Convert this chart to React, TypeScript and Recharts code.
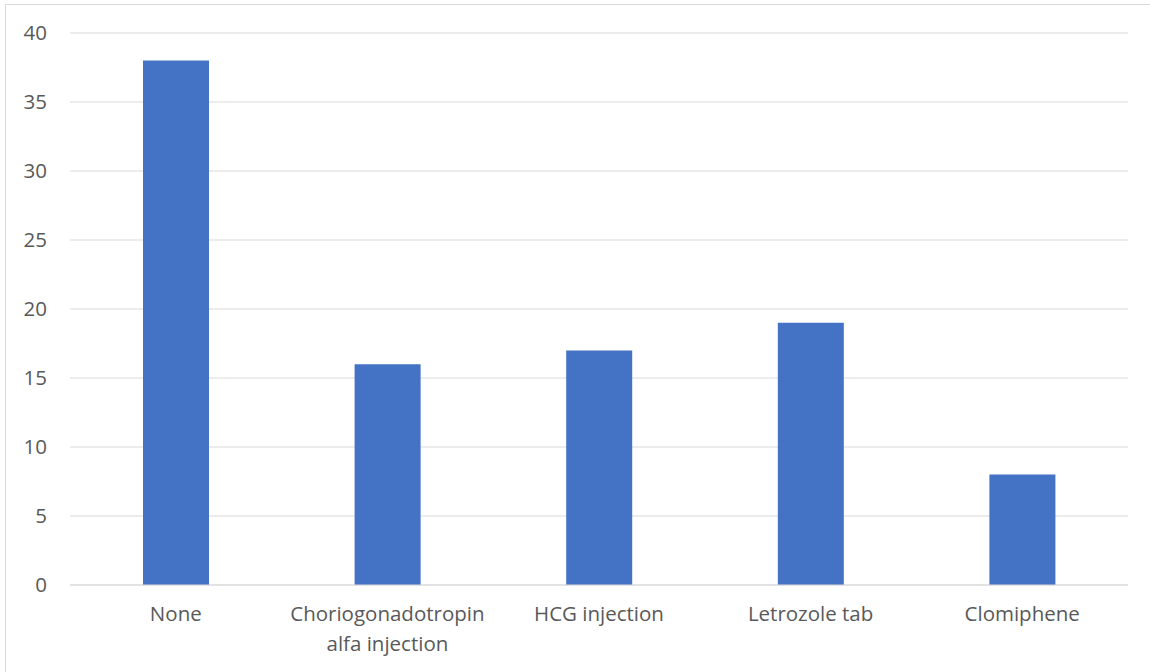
import { Bar, BarChart, CartesianGrid, Text, XAxis, YAxis } from "recharts";

const treatments = [
  "None",
  "Choriogonadotropin alfa injection",
  "HCG injection",
  "Letrozole tab",
  "Clomiphene",
];
const patients = [38, 16, 17, 19, 8];
const yTicks = [0, 5, 10, 15, 20, 25, 30, 35, 40];

const rows = treatments.map((name, i) => ({ name, count: patients[i] }));

const font = "'Open Sans', 'Liberation Sans', sans-serif";
const labelColor = "#595959";

// eslint-disable-next-line @typescript-eslint/no-explicit-any
function CategoryTick({ x, y, payload }: any) {
  return (
    <Text
      x={x}
      y={y + 13}
      width={170}
      textAnchor="middle"
      verticalAnchor="start"
      lineHeight={30}
      fill={labelColor}
      style={{ fontSize: 20.5, fontFamily: font }}
    >
      {payload.value}
    </Text>
  );
}

export default function App() {
  return (
    <div
      style={{
        position: "absolute",
        left: 0,
        top: 0,
        width: 1150,
        height: 672,
        overflow: "hidden",
        background: "#fff",
      }}
    >
      <div
        style={{
          position: "absolute",
          left: 5,
          top: 4,
          width: 1170,
          height: 690,
          border: "1px solid #d9d9d9",
        }}
      />
      <div style={{ position: "absolute", left: 0, top: 0 }}>
        <BarChart
          width={1150}
          height={672}
          data={rows}
          margin={{ top: 33, right: 22, bottom: 57, left: 0 }}
          barCategoryGap="34.5%"
        >
          <CartesianGrid vertical={false} stroke="#d9d9d9" strokeWidth={1} />
          <XAxis
            dataKey="name"
            axisLine={{ stroke: "#d9d9d9" }}
            tickLine={false}
            interval={0}
            height={30}
            tick={<CategoryTick />}
          />
          <YAxis
            width={70}
            domain={[0, 40]}
            ticks={yTicks}
            axisLine={false}
            tickLine={false}
            tickSize={0}
            tickMargin={23}
            tick={{ fill: labelColor, fontSize: 20.5, fontFamily: font }}
          />
          <Bar dataKey="count" fill="#4472c4" isAnimationActive={false} />
        </BarChart>
      </div>
    </div>
  );
}
